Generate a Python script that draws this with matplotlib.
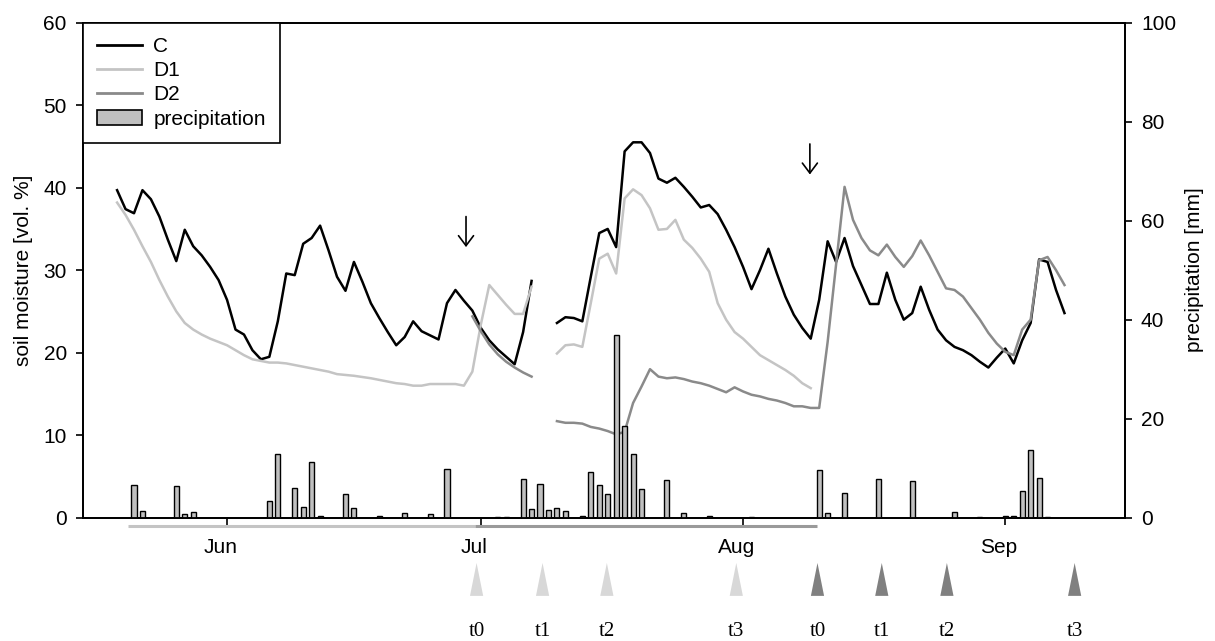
import numpy as np
import matplotlib
matplotlib.use('Agg')
import matplotlib.pyplot as plt
import matplotlib.transforms as mtransforms
from matplotlib.lines import Line2D
from matplotlib.patches import Patch, Polygon

plt.rcParams['font.family'] = ['Liberation Sans', 'DejaVu Sans']
plt.rcParams['font.size'] = 15

# x values are days counted from 1 June (day 0)
c_start1 = -13
c_vals1 = [39.7, 37.4, 36.9, 39.7, 38.6, 36.5, 33.7, 31.1, 34.9, 32.9,
           31.8, 30.4, 28.8, 26.4, 22.8, 22.2, 20.3, 19.2, 19.5, 23.8,
           29.6, 29.4, 33.2, 33.9, 35.4, 32.4, 29.2, 27.5, 31.0, 28.6,
           26.0, 24.2, 22.5, 20.9, 21.9, 23.8, 22.6, 22.1, 21.6, 26.0,
           27.6, 26.3, 25.1, 23.0, 21.5, 20.4, 19.5, 18.6, 22.5, 28.7]
c_start2 = 39
c_vals2 = [23.6, 24.3, 24.2, 23.8, 29.2, 34.5, 35.0, 32.8, 44.4, 45.5,
           45.5, 44.2, 41.1, 40.6, 41.2, 40.1, 38.9, 37.6, 37.9, 36.8,
           34.9, 32.8, 30.4, 27.7, 30.0, 32.6, 29.6, 26.8, 24.6, 23.0,
           21.7, 26.4, 33.5, 31.0, 33.9, 30.5, 28.2, 25.9, 25.9, 29.7,
           26.4, 24.0, 24.8, 28.0, 25.2, 22.8, 21.5, 20.7, 20.3, 19.7,
           18.9, 18.2, 19.4, 20.5, 18.7, 21.5, 23.6, 31.3, 31.0, 27.6,
           24.8]

d1_start1 = -13
d1_vals1 = [38.2, 36.7, 34.9, 32.9, 31.0, 28.8, 26.8, 25.0, 23.6, 22.8,
            22.2, 21.7, 21.3, 20.9, 20.3, 19.7, 19.2, 19.0, 18.8, 18.8,
            18.7, 18.5, 18.3, 18.1, 17.9, 17.7, 17.4, 17.3, 17.2, 17.05,
            16.9, 16.7, 16.5, 16.3, 16.2, 16.0, 16.0, 16.2, 16.2, 16.2,
            16.2, 16.0, 17.7, 23.4, 28.2, 27.0, 25.8, 24.7, 24.7, 28.0]
d1_start2 = 39
d1_vals2 = [19.9, 20.9, 21.0, 20.7, 26.0, 31.4, 32.0, 29.6, 38.7, 39.8,
            39.1, 37.5, 34.9, 35.0, 36.1, 33.7, 32.7, 31.4, 29.8, 26.0,
            24.0, 22.5, 21.7, 20.7, 19.7, 19.1, 18.5, 17.9, 17.2, 16.3,
            15.7]

d2_start1 = 29
d2_vals1 = [24.4, 22.6, 21.0, 19.8, 18.9, 18.2, 17.6, 17.1]
d2_start2 = 39
d2_vals2 = [11.7, 11.5, 11.5, 11.4, 11.0, 10.8, 10.5, 10.1, 10.4, 13.9,
            15.9, 18.0, 17.1, 16.9, 17.0, 16.8, 16.5, 16.3, 16.0, 15.6,
            15.2, 15.8, 15.3, 14.9, 14.7, 14.4, 14.2, 13.9, 13.5, 13.5,
            13.3, 13.3, 21.3, 30.7, 40.1, 36.1, 33.9, 32.4, 31.8, 33.1,
            31.6, 30.4, 31.7, 33.6, 31.8, 29.8, 27.8, 27.6, 26.8, 25.4,
            24.0, 22.4, 21.1, 20.1, 19.7, 22.8, 24.0, 31.2, 31.6, 30.0,
            28.2]

rain_days = [-11, -10, -6, -5, -4, 5, 6, 8, 9, 10, 11, 14, 15, 18, 21, 24, 26,
             32, 33, 35, 36, 37, 38, 39, 40, 42, 43, 44, 45, 46, 47, 48, 49,
             52, 54, 57, 62, 70, 71, 73, 77, 81, 86, 89, 92, 93, 94, 95, 96, 97]
rain_mm = [6.5, 1.35, 6.3, 0.7, 1.2, 3.4, 12.9, 5.9, 2.1, 11.2, 0.35, 4.8, 1.9,
           0.35, 0.95, 0.8, 9.8, 0.2, 0.2, 7.8, 1.7, 6.85, 1.5, 2.0, 1.3, 0.4,
           9.3, 6.6, 4.7, 36.9, 18.6, 12.8, 5.7, 7.7, 0.9, 0.3, 0.2, 9.6, 1.0,
           4.9, 7.9, 7.4, 1.1, 0.2, 0.3, 0.3, 5.3, 13.7, 8.1, 0.2]

month_days = [0, 30, 61, 92]
month_labels = ['Jun', 'Jul', 'Aug', 'Sep']

# treatment periods shown below the axis
d1_period = [-11.7, 29.3]
d2_period = [29.3, 69.7]

# sampling dates
t_labels = ['t0', 't1', 't2', 't3']
t_days_d1 = [29.5, 37.3, 44.9, 60.2]
t_days_d2 = [69.8, 77.4, 85.1, 100.2]

# arrows (day, top, bottom) on soil moisture scale
arrow_days = [28.25, 68.9]
arrow_top = [36.5, 45.3]
arrow_bottom = [32.8, 41.6]

col_c = 'black'
col_d1 = '#c4c4c4'
col_d2 = '#8a8a8a'

fig = plt.figure(figsize=(12.15, 6.41), dpi=100)
ax = fig.add_axes([0.0681, 0.1924, 0.8578, 0.7722])
ax2 = ax.twinx()

# --- lines ---
for start, vals, col in [(c_start1, c_vals1, col_c), (c_start2, c_vals2, col_c),
                         (d1_start1, d1_vals1, col_d1), (d1_start2, d1_vals2, col_d1),
                         (d2_start1, d2_vals1, col_d2), (d2_start2, d2_vals2, col_d2)]:
    days = start + np.arange(len(vals))
    ax.plot(days, vals, color=col, lw=1.8, zorder=3)

# --- precipitation bars ---
ax2.bar(rain_days, rain_mm, width=0.6, color='#c0c0c0', edgecolor='black',
        linewidth=1.0, zorder=2)

# --- arrows ---
for d, top, bot in zip(arrow_days, arrow_top, arrow_bottom):
    ax.annotate('', xy=(d, bot), xytext=(d, top),
                arrowprops=dict(arrowstyle='->,head_length=0.4,head_width=0.3',
                                lw=1.2, color='black', shrinkA=0, shrinkB=0,
                                mutation_scale=18))

# --- axes ---
ax.set_xlim(-17.06, 106.15)
ax.set_ylim(0, 60)
ax2.set_ylim(0, 100)
ax.set_yticks([0, 10, 20, 30, 40, 50, 60])
ax2.set_yticks([0, 20, 40, 60, 80, 100])
ax.set_xticks(month_days)
ax.set_xticklabels(month_labels)
ax.tick_params(axis='y', direction='out', length=5, width=1.2, pad=6.5)
ax2.tick_params(axis='y', direction='out', length=5, width=1.2, pad=6.5)
ax.tick_params(axis='x', direction='out', length=5, width=1.2, pad=9.5)
off = mtransforms.ScaledTranslation(-6.5 / 100, 0, fig.dpi_scale_trans)
for lab in ax.get_xticklabels():
    lab.set_transform(lab.get_transform() + off)
for a in (ax, ax2):
    for s in a.spines.values():
        s.set_linewidth(1.3)

fig.text(24 / 1215, 1 - 270 / 641, 'soil moisture [vol. %]', rotation=90,
         ha='center', va='center')
fig.text(1195 / 1215, 1 - 270 / 641, 'precipitation [mm]', rotation=90,
         ha='center', va='center')

# --- period lines and sampling triangles below the axis ---
trans = mtransforms.blended_transform_factory(ax.transData, ax.transAxes)
ax.plot(d1_period, [-0.017, -0.017], color=col_d1, lw=2.2, transform=trans,
        clip_on=False, solid_capstyle='butt')
ax.plot(d2_period, [-0.017, -0.017], color='#9a9a9a', lw=2.2, transform=trans,
        clip_on=False, solid_capstyle='butt')

for days, col in [(t_days_d1, '#d8d8d8'), (t_days_d2, '#808080')]:
    for d, lab in zip(days, t_labels):
        tri = Polygon([(d - 0.78, -0.158), (d + 0.78, -0.158), (d, -0.0915)],
                      closed=True, facecolor=col, edgecolor='none',
                      transform=trans, clip_on=False)
        ax.add_artist(tri)
        ax.text(d, -0.229, lab, transform=trans, ha='center', va='center',
                family=['Liberation Serif', 'DejaVu Serif'], fontsize=15)

# --- legend ---
handles = [Line2D([], [], color=col_c, lw=2),
           Line2D([], [], color=col_d1, lw=2),
           Line2D([], [], color=col_d2, lw=2),
           Patch(facecolor='#c0c0c0', edgecolor='black', linewidth=1.2)]
leg = ax2.legend(handles, ['C', 'D1', 'D2', 'precipitation'], loc='upper left',
                 bbox_to_anchor=(0, 1), borderaxespad=0, fancybox=False,
                 edgecolor='black', framealpha=1, handlelength=2.16,
                 handletextpad=0.53, labelspacing=0.245, borderpad=0.7)
leg.get_frame().set_linewidth(1.2)

fig.savefig('out.png', dpi=100)
